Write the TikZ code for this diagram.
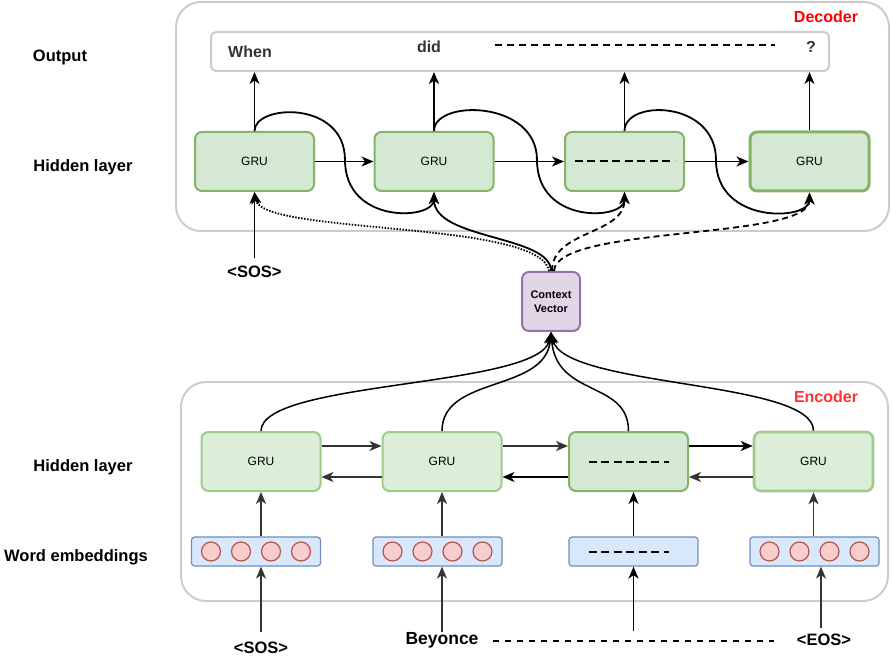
\documentclass[tikz,border=0pt]{standalone}
\usepackage{fontspec}
\setmainfont{Liberation Sans}
\usetikzlibrary{arrows.meta}

\definecolor{framegray}{HTML}{CCCCCC}
\definecolor{grufill}{HTML}{D5E8D4}
\definecolor{grudraw}{HTML}{82B366}
\definecolor{grupalefill}{HTML}{DCEDD9}
\definecolor{grupaledraw}{HTML}{9FCA8C}
\definecolor{embfill}{HTML}{DAE8FC}
\definecolor{embdraw}{HTML}{6C8EBF}
\definecolor{dotfill}{HTML}{F8CECC}
\definecolor{dotdraw}{HTML}{B85450}
\definecolor{ctxfill}{HTML}{E1D5E7}
\definecolor{ctxdraw}{HTML}{9673A6}
\definecolor{encgray}{HTML}{333333}
\definecolor{decred}{HTML}{FF0000}
\definecolor{encred}{HTML}{FF3333}

\tikzset{
	frame/.style={draw=framegray, line width=2pt, rounded corners=25pt},
	gru/.style={draw=grudraw, fill=grufill, line width=2pt, rounded corners=7pt,
		minimum width=119pt, minimum height=59pt, inner sep=0pt,
		font=\fontsize{12}{14}\selectfont},
	grupale/.style={gru, draw=grupaledraw, fill=grupalefill},
	embbox/.style={draw=embdraw, fill=embfill, line width=1.2pt, rounded corners=3pt,
		minimum width=129pt, minimum height=29pt, inner sep=0pt},
	embdot/.style={circle, draw=dotdraw, fill=dotfill, line width=1.2pt,
		minimum size=19pt, inner sep=0pt},
	ctxbox/.style={draw=ctxdraw, fill=ctxfill, line width=2pt, rounded corners=7pt,
		minimum width=58pt, minimum height=59pt, inner sep=0pt, align=center,
		font=\bfseries\fontsize{11}{14}\selectfont},
	rowlabel/.style={font=\bfseries\fontsize{16.5}{18}\selectfont},
	token/.style={font=\bfseries\fontsize{16.5}{18}\selectfont},
	outword/.style={text=encgray, font=\bfseries\fontsize{16}{18}\selectfont},
	arr/.style={-{Stealth[length=12pt,width=10pt,inset=3.5pt]}, line width=1.8pt},
	encarr/.style={arr, draw=encgray, line width=1.5pt},
	gap/.style={line width=2pt, dash pattern=on 8pt off 4.5pt},
}

\begin{document}
\begin{tikzpicture}[x=1pt, y=-1pt]
	\useasboundingbox (0,0) rectangle (892,660);

	% decoder part
	\draw[frame] (176,2) rectangle (889,231);
	\node[draw=framegray, line width=2pt, rounded corners=5pt, minimum width=618pt,
		minimum height=39pt] (outbox) at (520,51.5) {};
	\node[outword] (when) at (250,52) {When};
	\node[outword] (did) at (429,47) {did};
	\draw[line width=1.5pt, dash pattern=on 7pt off 5pt] (495,45) -- (775,45);
	\node[outword] (qmark) at (811,47) {?};

	\node[gru] (d1) at (254.5,161.5) {GRU};
	\node[gru] (d2) at (434,161.5) {GRU};
	\node[gru] (d3) at (624.5,161.5) {};
	\node[gru, line width=3pt] (d4) at (809.5,161.5) {GRU};
	\draw[gap] ([xshift=-50]d3.center) -- ([xshift=50]d3.center);

	\foreach \d in {d1,d2,d3,d4}
		\draw[arr] (\d.north) -- (\d.north |- outbox.south);
	\draw[arr] (d1) -- (d2);
	\draw[arr] (d2) -- (d3);
	\draw[arr] (d3) -- (d4);

	\coordinate (lp1) at (345,160);
	\coordinate (lp2) at (537,160);
	\coordinate (lp3) at (716,160);
	\draw[arr] (d1.north) .. controls +(0,-27) and +(0,-60) .. (lp1)
		.. controls +(0,65) and +(0,28) .. (d2.south);
	\draw[arr] (d2.north) .. controls +(0,-32) and +(0,-60) .. (lp2)
		.. controls +(0,65) and +(0,28) .. (d3.south);
	\draw[arr] (d3.north) .. controls +(0,-32) and +(0,-60) .. (lp3)
		.. controls +(0,65) and +(0,28) .. (d4.south);

	\node[font=\bfseries\fontsize{16}{18}\selectfont, text=decred] (declabel) at (826,17) {Decoder};

	\coordinate (sosdec) at (254.5,258);
	\draw[arr] (sosdec) -- (d1.south);
	\node[token] (sostop) at (254.5,272) {<SOS>};

	% context vector
	\node[ctxbox] (cv) at (551,301.5) {Context\\Vector};
	\draw[arr] (cv.north) .. controls +(0,-36) and +(0,48) .. (d2.south);
	\draw[arr, dash pattern=on 1.5pt off 1.5pt] ([xshift=-2]cv.north)
		.. controls +(-8,-51) and +(7,43) .. (d1.south);
	\draw[arr, dash pattern=on 6pt off 4pt] ([xshift=1]cv.north)
		.. controls +(0,-41) and +(0,43) .. (d3.south);
	\draw[arr, dash pattern=on 6pt off 4pt] ([xshift=3]cv.north)
		.. controls +(2,-46) and +(0,48) .. (d4.south);

	% encoder part
	\draw[frame] (181,382) rectangle (888,601);

	\node[grupale] (e1) at (261,461.5) {GRU};
	\node[grupale] (e2) at (442,461.5) {GRU};
	\node[gru] (e3) at (628.5,461.5) {};
	\node[grupale, line width=2.6pt] (e4) at (813.5,461.5) {GRU};
	\draw[gap] ([xshift=-40]e3.center) -- ([xshift=40]e3.center);

	\draw[encarr] ([yshift=15.5]e1.east) -- ([yshift=15.5]e2.west);
	\draw[encarr] ([yshift=15.5]e2.east) -- ([yshift=15.5]e3.west);
	\draw[arr] ([yshift=15.5]e3.east) -- ([yshift=15.5]e4.west);
	\draw[encarr] ([yshift=-15.5]e2.west) -- ([yshift=-15.5]e1.east);
	\draw[arr] ([yshift=-15.5]e3.west) -- ([yshift=-15.5]e2.east);
	\draw[encarr] ([yshift=-15.5]e4.west) -- ([yshift=-15.5]e3.east);

	\draw[arr, line width=1.5pt] (e1.north) .. controls +(0,-51) and +(-10,56) .. (cv.south);
	\draw[arr, line width=1.5pt] (e2.north) .. controls +(0,-56) and +(-5,61) .. (cv.south);
	\draw[arr, line width=1.5pt] (e3.north) .. controls +(0,-51) and +(5,66) .. (cv.south);
	\draw[arr, line width=1.5pt] (e4.north) .. controls +(0,-51) and +(12,56) .. (cv.south);

	\node[font=\bfseries\fontsize{16}{18}\selectfont, text=encred, fill=white,
		inner sep=1pt] (enclabel) at (826,397) {Encoder};

	\node[embbox] (emb1) at (256,551.5) {};
	\node[embbox] (emb2) at (437.5,551.5) {};
	\node[embbox] (emb3) at (633.5,551.5) {};
	\node[embbox] (emb4) at (814.5,551.5) {};
	\foreach \b in {emb1,emb2,emb4}
		\foreach \dx [count=\k] in {-45,-15,15,45}
			\node[embdot] (\b dot\k) at ([xshift=\dx]\b.center) {};
	\draw[gap] ([xshift=-45]emb3.center) -- ([xshift=35]emb3.center);

	\draw[encarr] (emb1.north -| e1.south) -- (e1.south);
	\draw[encarr] (emb2.north -| e2.south) -- (e2.south);
	\draw[arr] (emb3.north) -- (emb3.north |- e3.south);
	\draw[encarr] (emb4.north -| e4.south) -- (e4.south);

	% inputs
	\coordinate (in1) at (261,632);
	\coordinate (in2) at (442,632);
	\coordinate (in3) at (633.5,631);
	\coordinate (in4) at (821,628);
	\draw[encarr] (in1) -- (in1 |- emb1.south);
	\draw[encarr] (in2) -- (in2 |- emb2.south);
	\draw[arr] (in3) -- (emb3.south);
	\draw[encarr] (in4) -- (in4 |- emb4.south);
	\node[token] (sosbot) at (261,648) {<SOS>};
	\node[token, font=\bfseries\fontsize{17.5}{20}\selectfont] (beyonce) at (442,640) {Beyonce};
	\draw[line width=1.5pt, dash pattern=on 6pt off 6pt] (493,641) -- (774,641);
	\node[token] (eos) at (824,640) {<EOS>};

	% row labels
	\node[rowlabel] (lblout) at (60,57) {Output};
	\node[rowlabel] (lbldec) at (83,167) {Hidden layer};
	\node[rowlabel] (lblenc) at (83,467) {Hidden layer};
	\node[rowlabel] (lblemb) at (76,557) {Word embeddings};
\end{tikzpicture}
\end{document}
